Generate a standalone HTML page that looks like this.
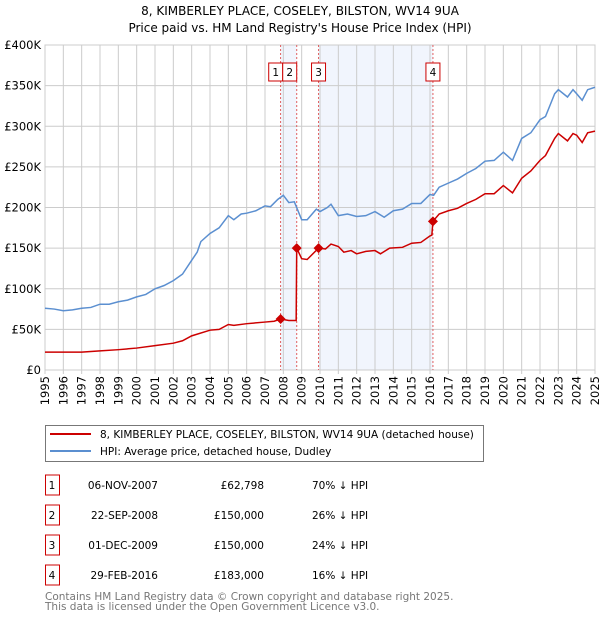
<!DOCTYPE html>
<html><head><meta charset="utf-8"><style>
body{margin:0;background:#fff}
svg{font-family:"DejaVu Sans","Liberation Sans",sans-serif}
</style></head><body>
<svg id="chart" width="600" height="620" xmlns="http://www.w3.org/2000/svg">
<text x="300" y="15" text-anchor="middle" font-size="12">8, KIMBERLEY PLACE, COSELEY, BILSTON, WV14 9UA</text>
<text x="300" y="32" text-anchor="middle" font-size="12">Price paid vs. HM Land Registry's House Price Index (HPI)</text>
<g id="plot"></g>
<g>
<rect x="45.5" y="425.5" width="438" height="36" fill="#fff" stroke="#777"/>
<line x1="50" y1="434" x2="91" y2="434" stroke="#cc0000" stroke-width="2"/>
<text x="100" y="438" font-size="10.5">8, KIMBERLEY PLACE, COSELEY, BILSTON, WV14 9UA (detached house)</text>
<line x1="50" y1="451" x2="91" y2="451" stroke="#5b8fd0" stroke-width="2"/>
<text x="100" y="455" font-size="10.5">HPI: Average price, detached house, Dudley</text>
</g>
<g id="table" font-size="10.5"></g>
<text x="45" y="600" font-size="10.5" fill="#777">Contains HM Land Registry data © Crown copyright and database right 2025.</text>
<text x="45" y="610" font-size="10.5" fill="#777">This data is licensed under the Open Government Licence v3.0.</text>
</svg>
<script>
const hpiYears=[1995,1995.5,1996,1996.5,1997,1997.5,1998,1998.5,1999,1999.5,2000,2000.5,2001,2001.5,2002,2002.5,2003,2003.3,2003.5,2004,2004.5,2005,2005.3,2005.7,2006,2006.5,2007,2007.3,2007.7,2008,2008.3,2008.6,2009,2009.3,2009.8,2010,2010.4,2010.6,2011,2011.5,2012,2012.5,2013,2013.5,2014,2014.5,2015,2015.5,2016,2016.2,2016.5,2017,2017.5,2018,2018.5,2019,2019.5,2020,2020.5,2021,2021.5,2022,2022.3,2022.8,2023,2023.5,2023.8,2024,2024.3,2024.6,2025];
const hpiValues=[76,75,73,74,76,77,81,81,84,86,90,93,100,104,110,118,135,145,158,168,175,190,185,192,193,196,202,201,210,215,206,207,185,185,198,195,200,204,190,192,189,190,195,188,196,198,205,205,216,215,225,230,235,242,248,257,258,268,258,285,292,308,312,340,345,336,345,340,332,345,348];
const propYears=[1995,1997,1998,1999,2000,2001,2002,2002.5,2003,2004,2004.5,2005,2005.3,2006,2007,2007.5,2007.85,2008.3,2008.7,2008.73,2009,2009.3,2009.92,2010.3,2010.6,2011,2011.3,2011.7,2012,2012.5,2013,2013.3,2013.8,2014.5,2015,2015.5,2016,2016.1,2016.16,2016.5,2017,2017.5,2018,2018.5,2019,2019.5,2020,2020.5,2021,2021.5,2022,2022.3,2022.8,2023,2023.5,2023.8,2024,2024.3,2024.6,2025];
const propValues=[22,22,23.5,25,27,30,33,36,42,49,50,56,55,57,59,60,62.8,61,61,150,137,136,150,149,155,152,145,147,143,146,147,143,150,151,156,157,165,166,183,192,196,199,205,210,217,217,227,218,236,245,258,264,285,291,282,291,289,280,292,294];
const saleLabels=["1","2","3","4"];
const saleYears=[2007.85,2008.73,2009.92,2016.16];
const salePrices=[62.798,150,150,183];
const saleDates=["06-NOV-2007","22-SEP-2008","01-DEC-2009","29-FEB-2016"];
const salePriceText=["£62,798","£150,000","£150,000","£183,000"];
const saleDiffText=["70% ↓ HPI","26% ↓ HPI","24% ↓ HPI","16% ↓ HPI"];
const yTicks=[0,50,100,150,200,250,300,350,400];
const yTickLabels=["£0","£50K","£100K","£150K","£200K","£250K","£300K","£350K","£400K"];
const xTicks=[1995,1996,1997,1998,1999,2000,2001,2002,2003,2004,2005,2006,2007,2008,2009,2010,2011,2012,2013,2014,2015,2016,2017,2018,2019,2020,2021,2022,2023,2024,2025];

const NS="http://www.w3.org/2000/svg";
const X0=45,X1=595,Y0=370,Y1=45;
const xs=y=>X0+(y-1995)/30*(X1-X0);
const ys=v=>Y0-v/400*(Y0-Y1);
const plot=document.getElementById('plot');
function mk(tag,attrs,parent){const e=document.createElementNS(NS,tag);for(const k in attrs)e.setAttribute(k,attrs[k]);(parent||plot).appendChild(e);return e;}
// shading
for(const [a,b] of [[0,1],[2,3]]){
 const r=mk('rect',{x:xs(saleYears[a]),y:Y1,width:xs(saleYears[b])-xs(saleYears[a]),height:Y0-Y1,fill:'#eef3fc',opacity:0.8});
 
 
}
// grid
yTicks.forEach((t,i)=>{
 const l=mk('line',{x1:X0,x2:X1,y1:ys(t),y2:ys(t),stroke:'#ccc'});
 
 
 const tx=mk('text',{x:X0-4,y:ys(t)+4,'text-anchor':'end','font-size':11.5});
 tx.textContent=yTickLabels[i];
 
 
});
xTicks.forEach(t=>{
 const l=mk('line',{x1:xs(t),x2:xs(t),y1:Y1,y2:Y0+4,stroke:'#ccc'});
 
 
 const tx=mk('text',{x:0,y:0,'font-size':11.5,'text-anchor':'end',transform:`translate(${xs(t)+4},${Y0+6}) rotate(-90)`});
 tx.textContent=t;
 
 
});
mk('rect',{x:X0,y:Y1,width:X1-X0,height:Y0-Y1,fill:'none',stroke:'#ccc'});
// sale lines & boxes
saleYears.forEach((y,i)=>{
 const l=mk('line',{x1:xs(y),x2:xs(y),y1:Y1,y2:Y0,stroke:'#e06060','stroke-dasharray':'2,2'});
 
 
 let bx=xs(y)-7; if(i===0) bx=xs(y)-14; if(i===1) bx=xs(y)-14+0;
 if(i===0) bx=xs(saleYears[1])-28; if(i===1) bx=xs(saleYears[1])-14;
 const r=mk('rect',{x:bx,y:63,width:14,height:18,fill:'#fff',stroke:'#cc0000'});
 
 
 const tx=mk('text',{x:bx+7,y:76,'text-anchor':'middle','font-size':10.5});
 tx.textContent=saleLabels[i];
 
 
});
// series
const hp=mk('polyline',{points:hpiYears.map((y,i)=>xs(y)+','+ys(hpiValues[i])).join(' '),fill:'none',stroke:'#5b8fd0','stroke-width':1.5});


const pp=mk('polyline',{points:propYears.map((y,i)=>xs(y)+','+ys(propValues[i])).join(' '),fill:'none',stroke:'#cc0000','stroke-width':1.5});


saleYears.forEach((y,i)=>{
 const cx=xs(y),cy=ys(salePrices[i]);
 const d=mk('polygon',{points:`${cx},${cy-5} ${cx+5},${cy} ${cx},${cy+5} ${cx-5},${cy}`,fill:'#cc0000'});
 
 
});
// table
const tb=document.getElementById('table');
saleLabels.forEach((s,i)=>{
 const cy=485+i*30;
 const r=mk('rect',{x:45.5,y:cy-10,width:14,height:20,fill:'#fff',stroke:'#cc0000'},tb);
 
 
 const cells=[[52,s,'middle'],[158,saleDates[i],'end'],[264,salePriceText[i],'end'],[312,saleDiffText[i],'start']];
 cells.forEach(c=>{
  const t=mk('text',{x:c[0],y:cy+4,'text-anchor':c[2]},tb);
  t.textContent=c[1];
  
  
 });
});
</script>
</body></html>
